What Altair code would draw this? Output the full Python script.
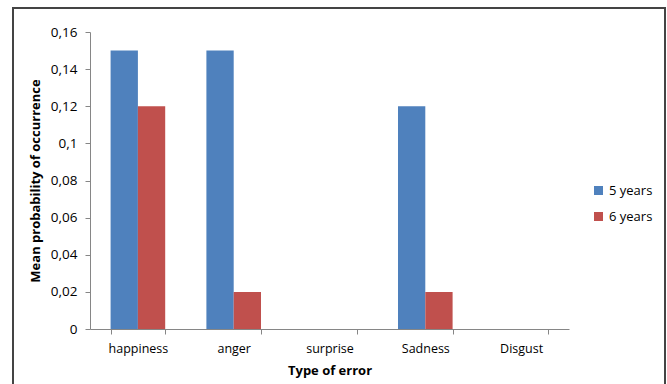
import altair as alt
import pandas as pd

categories = ["happiness", "anger", "surprise", "Sadness", "Disgust"]
series = ["5 years", "6 years"]
values_5 = [0.15, 0.15, 0.0, 0.12, 0.0]
values_6 = [0.12, 0.02, 0.0, 0.02, 0.0]
y_ticks = [0, 0.02, 0.04, 0.06, 0.08, 0.10, 0.12, 0.14, 0.16]
colors = ["#4F81BD", "#C0504D"]

rows = []
for c, a, b in zip(categories, values_5, values_6):
    rows.append({"cat": c, "series": series[0], "value": a})
    rows.append({"cat": c, "series": series[1], "value": b})
df = pd.DataFrame(rows)

FONT = "Open Sans"
W, H = 479, 297

bars = alt.Chart(df).mark_bar().encode(
    x=alt.X("cat:N", sort=categories,
            scale=alt.Scale(paddingInner=0.43, paddingOuter=0.215),
            axis=alt.Axis(title="Type of error", labelAngle=0, tickBand="extent",
                          domainColor="#868686", tickColor="#868686", tickSize=5,
                          labelFontSize=12.5, labelColor="#000", labelPadding=8,
                          titleFontSize=13, titleFontWeight="bold", titleColor="#000",
                          titlePadding=10)),
    xOffset=alt.XOffset("series:N", sort=series),
    y=alt.Y("value:Q", scale=alt.Scale(domain=[0, 0.16], nice=False),
            axis=alt.Axis(title="Mean probability of occurrence", values=y_ticks,
                          labelExpr="replace(format(datum.value, '~g'), '.', ',')",
                          domainColor="#868686", tickColor="#868686", tickSize=5,
                          labelFontSize=13.5, labelColor="#000", labelPadding=8,
                          titleFontSize=13, titleFontWeight="bold", titleColor="#000",
                          titlePadding=8, grid=False)),
    color=alt.Color("series:N", sort=series,
                    scale=alt.Scale(domain=series, range=colors),
                    legend=alt.Legend(title=None, orient="none", legendX=502, legendY=152,
                                      symbolType="square", symbolSize=81,
                                      symbolStrokeWidth=0, labelFontSize=13,
                                      labelColor="#000", rowPadding=12, labelOffset=4)),
)

border = alt.Chart(pd.DataFrame({"a": [0]})).mark_rect(
    fill=None, stroke="#444", strokeWidth=2
).encode(x=alt.value(-77), x2=alt.value(575), y=alt.value(-24), y2=alt.value(380))

chart = alt.layer(bars, border).properties(
    width=W, height=H,
    autosize=alt.AutoSizeParams(type="none"),
    padding={"left": 90, "top": 32, "right": 98, "bottom": 55},
).configure(font=FONT).configure_view(stroke=None)

chart.save("out.html", embed_options={"renderer": "svg", "actions": False})
